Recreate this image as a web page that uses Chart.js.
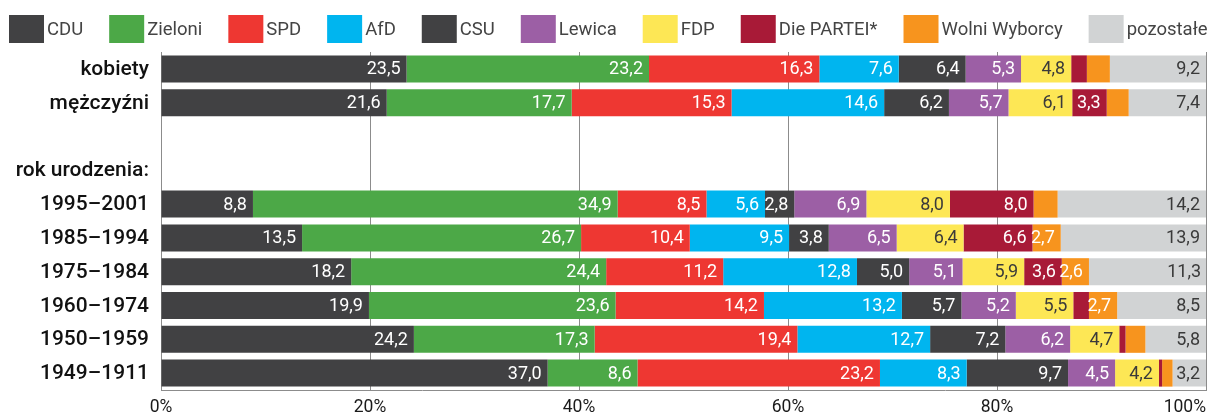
<!DOCTYPE html>
<html lang="pl">
<head>
<meta charset="utf-8">
<title>Wyniki według płci i roku urodzenia</title>
<script src="https://cdn.jsdelivr.net/npm/chart.js@4.4.1/dist/chart.umd.min.js"></script>
<style>
    html, body { margin: 0; padding: 0; background: #ffffff; }
    #wrap { position: relative; width: 1208px; height: 414px; }
</style>
</head>
<body>
<div id="wrap"><canvas id="voteChart"></canvas></div>
<script>
// Rows (top to bottom); the two spacer rows hold the group heading
const CATEGORIES = ['kobiety', 'mężczyźni', '', 'rok urodzenia:', '1995–2001', '1985–1994', '1975–1984', '1960–1974', '1950–1959', '1949–1911'];
const PARTIES = ['CDU', 'Zieloni', 'SPD', 'AfD', 'CSU', 'Lewica', 'FDP', 'Die PARTEI*', 'Wolni Wyborcy', 'pozostałe'];

// Share of votes (%), one value per row
const CDU_VALUES      = [23.5, 21.6, null, null, 8.8, 13.5, 18.2, 19.9, 24.2, 37.0];
const ZIELONI_VALUES  = [23.2, 17.7, null, null, 34.9, 26.7, 24.4, 23.6, 17.3, 8.6];
const SPD_VALUES      = [16.3, 15.3, null, null, 8.5, 10.4, 11.2, 14.2, 19.4, 23.2];
const AFD_VALUES      = [7.6, 14.6, null, null, 5.6, 9.5, 12.8, 13.2, 12.7, 8.3];
const CSU_VALUES      = [6.4, 6.2, null, null, 2.8, 3.8, 5.0, 5.7, 7.2, 9.7];
const LEWICA_VALUES   = [5.3, 5.7, null, null, 6.9, 6.5, 5.1, 5.2, 6.2, 4.5];
const FDP_VALUES      = [4.8, 6.1, null, null, 8.0, 6.4, 5.9, 5.5, 4.7, 4.2];
const PARTEI_VALUES   = [1.5, 3.3, null, null, 8.0, 6.6, 3.6, 1.5, 0.6, 0.3];
const WOLNI_VALUES    = [2.2, 2.1, null, null, 2.3, 2.7, 2.6, 2.7, 1.9, 1.0];
const POZOSTALE_VALUES = [9.2, 7.4, null, null, 14.2, 13.9, 11.3, 8.5, 5.8, 3.2];

const SERIES = [CDU_VALUES, ZIELONI_VALUES, SPD_VALUES, AFD_VALUES, CSU_VALUES,
    LEWICA_VALUES, FDP_VALUES, PARTEI_VALUES, WOLNI_VALUES, POZOSTALE_VALUES];

const X_TICKS = [0, 20, 40, 60, 80, 100];

// Styles
const PARTY_COLORS = ['#414143', '#4ca847', '#ee3732', '#00b5ef', '#414143', '#9c5fa5', '#fde755', '#a81a37', '#f7941e', '#d1d3d4'];
const LABEL_COLORS = ['#ffffff', '#ffffff', '#ffffff', '#ffffff', '#ffffff', '#ffffff', '#3a3a3a', '#ffffff', '#ffffff', '#3a3a3a'];
const MIN_LABELED = 2.5;
const FONT = 'Roboto, "Noto Sans", sans-serif';
const FONT_MEDIUM = '"Roboto Medium", Roboto, "Noto Sans", sans-serif';

const formatPct = (v) => v.toFixed(1).replace('.', ',');

/**
 * Legend row drawn across the top: swatch followed closely by its name
 */
const legendRow = {
    id: 'legendRow',
    afterDraw(chart) {
        const ctx = chart.ctx;
        ctx.save();
        ctx.font = '18.5px ' + FONT;
        ctx.textBaseline = 'middle';
        ctx.textAlign = 'left';
        let x = 9;
        chart.data.datasets.forEach((ds) => {
            ctx.fillStyle = ds.backgroundColor;
            ctx.fillRect(x, 15, 35, 28);
            ctx.fillStyle = '#444444';
            ctx.fillText(ds.label, x + 38, 30);
            x += 38 + ctx.measureText(ds.label).width + 26;
        });
        ctx.restore();
    }
};

/**
 * Values written inside each segment, right aligned
 */
const segmentLabels = {
    id: 'segmentLabels',
    afterDatasetsDraw(chart) {
        const ctx = chart.ctx;
        ctx.save();
        ctx.font = '18px ' + FONT;
        ctx.textAlign = 'right';
        ctx.textBaseline = 'middle';
        chart.data.datasets.forEach((ds, di) => {
            const meta = chart.getDatasetMeta(di);
            meta.data.forEach((bar, i) => {
                const v = ds.data[i];
                if (v === null || v < MIN_LABELED) return;
                ctx.fillStyle = LABEL_COLORS[di];
                ctx.fillText(formatPct(v), bar.x - 6, bar.y + 1);
            });
        });
        ctx.restore();
    }
};

/**
 * Percent labels under the axis; the last one is kept inside the canvas
 */
const percentTicks = {
    id: 'percentTicks',
    afterDraw(chart) {
        const scale = chart.scales.x;
        const ctx = chart.ctx;
        ctx.save();
        ctx.font = '17.5px ' + FONT;
        ctx.fillStyle = '#1a1a1a';
        ctx.textBaseline = 'alphabetic';
        scale.ticks.forEach((t, i) => {
            const last = i === scale.ticks.length - 1;
            ctx.textAlign = last ? 'right' : 'center';
            const x = last ? scale.right : scale.getPixelForValue(t.value);
            ctx.fillText(t.value + '%', x, 412);
        });
        ctx.restore();
    }
};

function buildDatasets() {
    return PARTIES.map((name, i) => ({
        label: name,
        data: SERIES[i],
        backgroundColor: PARTY_COLORS[i],
        borderWidth: 0,
        barPercentage: 0.8,
        categoryPercentage: 1.0
    }));
}

const ctx = document.getElementById('voteChart').getContext('2d');

new Chart(ctx, {
    type: 'bar',
    data: {
        labels: CATEGORIES,
        datasets: buildDatasets()
    },
    options: {
        indexAxis: 'y',
        responsive: true,
        maintainAspectRatio: false,
        animation: false,
        layout: {
            padding: { top: 52, right: 2, bottom: 24, left: 0 }
        },
        plugins: {
            legend: { display: false },
            tooltip: { enabled: false }
        },
        scales: {
            x: {
                stacked: true,
                min: 0,
                max: 100,
                afterBuildTicks: (scale) => {
                    scale.ticks = X_TICKS.map((v) => ({ value: v }));
                },
                ticks: { display: false },
                grid: {
                    color: '#8c8c8c',
                    lineWidth: 1,
                    drawTicks: false
                },
                border: { display: true, color: '#8c8c8c', width: 1 }
            },
            y: {
                stacked: true,
                afterFit: (scale) => {
                    scale.width = 161;
                    scale.paddingTop = 0;
                    scale.paddingBottom = 0;
                },
                ticks: {
                    color: '#111111',
                    padding: 12,
                    font: { family: FONT_MEDIUM, size: 21, weight: '500' }
                },
                grid: { display: false, drawTicks: false },
                border: { display: true, color: '#8c8c8c', width: 1 }
            }
        }
    },
    plugins: [legendRow, segmentLabels, percentTicks]
});
</script>
</body>
</html>
